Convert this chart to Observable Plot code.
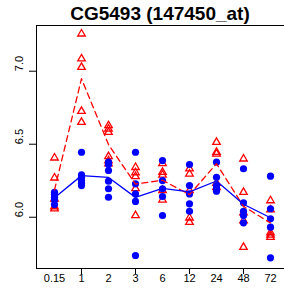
<!DOCTYPE html>
<html>
<head>
<meta charset="utf-8">
<script src="https://cdn.jsdelivr.net/npm/d3@7"></script>
<script src="https://cdn.jsdelivr.net/npm/@observablehq/plot@0.6"></script>
<style>
  body { margin: 0; background: #fff; font-family: "Liberation Sans", Arial, sans-serif; }
  #title { height: 20px; padding-top: 4px; font-weight: bold; font-size: 19px; line-height: 19px; text-align: center; padding-left: 36px; width: 248px; color: #000; white-space: nowrap; }
  svg { display: block; }
</style>
</head>
<body>
<div id="title">CG5493 (147450_at)</div>
<div id="chart"></div>
<script>
const titleText = "CG5493 (147450_at)";
const times = ["0.15", "1", "2", "3", "6", "12", "24", "48", "72"];
const xTickMarks = ["1", "3", "12", "48"];
const yTicks = [6.0, 6.5, 7.0];

// red series (triangles, dashed mean line)
const redValues = [
  [6.407, 6.270, 6.126, 6.073, 6.058],
  [7.256, 7.085, 7.027, 6.726, 6.651],
  [6.628, 6.605, 6.582, 6.416, 6.388, 6.366],
  [6.342, 6.306, 6.279, 6.197, 6.012],
  [6.368, 6.308, 6.290, 6.183, 6.119],
  [6.332, 6.297, 6.183, 5.996, 5.966],
  [6.514, 6.445, 6.434, 6.233, 6.205],
  [6.400, 6.171, 6.032, 5.977, 5.795],
  [6.114, 6.051, 5.895, 5.879, 5.863]
];

// blue series (dots, solid mean line)
const blueValues = [
  [6.171, 6.155, 6.137, 6.119, 6.087],
  [6.445, 6.290, 6.274, 6.251, 6.233, 6.217],
  [6.377, 6.361, 6.320, 6.247, 6.195, 6.137],
  [6.445, 6.229, 6.160, 6.108, 5.738],
  [6.388, 6.251, 6.195, 6.142, 6.012],
  [6.361, 6.217, 6.160, 6.092, 6.041],
  [6.377, 6.274, 6.217, 6.195, 6.178],
  [6.332, 6.099, 6.041, 6.012, 5.962],
  [6.281, 6.058, 5.989, 5.932, 5.722]
];

const flatten = (vals) => vals.flatMap((arr, i) => arr.map(v => ({time: times[i], value: v})));
const redPts = flatten(redValues);
const bluePts = flatten(blueValues);
const redMean = redValues.map((arr, i) => ({time: times[i], value: d3.mean(arr)}));
const blueMean = blueValues.map((arr, i) => ({time: times[i], value: d3.mean(arr)}));

const RED = "#ff0000", BLUE = "#0000ff";

const chart = Plot.plot({
  width: 284,
  height: 267,
  marginLeft: 36,
  marginRight: 0,
  marginTop: 1,
  marginBottom: 23,
  style: {fontFamily: "Liberation Sans, Arial, sans-serif", fontSize: "11px", color: "#000", background: "#fff"},
  x: {type: "point", domain: times, range: [51.6, 273.2], padding: 0, label: null},
  y: {domain: [5.649, 7.313], label: null},
  marks: [
    Plot.frame({anchor: "top", stroke: "#000"}),
    Plot.frame({anchor: "left", stroke: "#000"}),
    Plot.frame({anchor: "bottom", stroke: "#000"}),
    Plot.axisY({ticks: yTicks, tickSize: 7, tickFormat: () => "", stroke: "#000", label: null}),
    Plot.text(yTicks, {y: d => d, text: d => d.toFixed(1), frameAnchor: "left", dx: -17, rotate: -90, fontSize: 11, fill: "#000"}),
    Plot.axisX({ticks: xTickMarks, tickSize: 6, tickFormat: () => "", stroke: "#000", label: null}),
    Plot.axisX({ticks: times, tickSize: 0, tickPadding: 6, fontSize: 11, fill: "#000", label: null}),
    Plot.dot(redPts, {x: "time", y: "value", symbol: "triangle", r: 2.8, stroke: RED, strokeWidth: 1.3, fill: "none"}),
    Plot.dot(bluePts, {x: "time", y: "value", r: 3.6, fill: BLUE, stroke: "none"}),
    Plot.line(redMean, {x: "time", y: "value", stroke: RED, strokeWidth: 1.3, strokeDasharray: "6,4"}),
    Plot.line(blueMean, {x: "time", y: "value", stroke: BLUE, strokeWidth: 1.3})
  ]
});
document.getElementById("chart").appendChild(chart);
</script>
</body>
</html>
